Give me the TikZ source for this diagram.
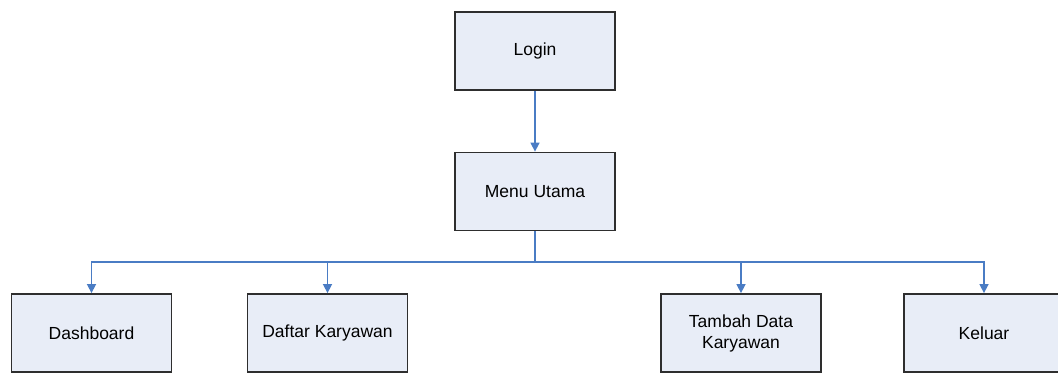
\documentclass[tikz,border=0pt]{standalone}
\usepackage{fontspec}
\setmainfont{Liberation Sans}
\usetikzlibrary{arrows.meta}
\definecolor{boxfill}{HTML}{E8EDF7}
\definecolor{boxline}{HTML}{2E2E2E}
\definecolor{arrowc}{HTML}{4A7CC4}
\begin{document}
\begin{tikzpicture}[x=1pt,y=-1pt,
  box/.style={draw=boxline,line width=1.8pt,fill=boxfill,minimum width=160pt,minimum height=78pt,
    inner sep=0pt,align=center,font=\fontsize{17.5}{21}\selectfont},
  conn/.style={draw=arrowc,line width=1.5pt},
  arr/.style={conn,-{Triangle[width=9pt,length=9pt]}}]
\path[use as bounding box] (0,0) rectangle (1058,373);
\begin{scope}
\clip (0,0) rectangle (1058,373);
\node[box] (login) at (535,51) {Login};
\node[box] (menu) at (535,191.5) {Menu Utama};
\node[box] (dash) at (91.5,333) {Dashboard};
\node[box] (daftar) at (327.5,333) {Daftar Karyawan};
\node[box] (tambah) at (741,333) {Tambah Data\\Karyawan};
\node[box] (keluar) at (984,333) {Keluar};
\coordinate (bus) at (535,262);
\draw[arr] (login.south) -- (menu.north);
\draw[conn] (menu.south) -- (bus);
\draw[arr] (bus) -| (dash.north);
\draw[arr] (bus) -| (daftar.north);
\draw[arr] (bus) -| (tambah.north);
\draw[arr] (bus) -| (keluar.north);
\end{scope}
\end{tikzpicture}
\end{document}
